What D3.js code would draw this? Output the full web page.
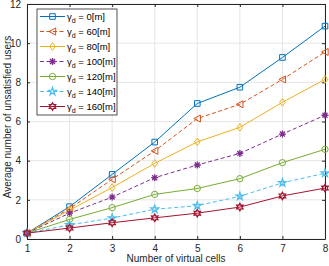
<!DOCTYPE html>
<html><head><meta charset="utf-8">
<script src="https://cdn.jsdelivr.net/npm/d3@7"></script>
<style>body{margin:0;background:#fff}svg{display:block;font-family:"Liberation Sans",Arial,sans-serif}</style>
</head><body>
<svg id="c" width="329" height="266"></svg>
<script>
const xCategories = [1,2,3,4,5,6,7,8];
const yTicks = [0,2,4,6,8,10,12];
const seriesNames = ["0","60","80","100","120","140","160"];
const s0   = [0.3, 1.65, 3.3, 4.95, 6.92, 7.75, 9.27, 10.87];
const s60  = [0.3, 1.55, 3.05, 4.5, 6.15, 6.88, 8.15, 9.55];
const s80  = [0.3, 1.47, 2.63, 3.86, 4.96, 5.7, 6.98, 8.15];
const s100 = [0.3, 1.32, 2.14, 3.13, 3.78, 4.37, 5.36, 6.32];
const s120 = [0.3, 1.0, 1.6, 2.28, 2.58, 3.08, 3.9, 4.58];
const s140 = [0.3, 0.72, 1.07, 1.52, 1.7, 2.18, 2.87, 3.36];
const s160 = [0.3, 0.56, 0.83, 1.08, 1.32, 1.63, 2.2, 2.6];
const seriesValues = [s0,s60,s80,s100,s120,s140,s160];

const colors = ["#0072BD","#D95319","#EDB120","#7E2F8E","#77AC30","#4DBEEE","#A2142F"];
const dashes = [null,"4,2.5",null,"4,2.5",null,"4,2.5",null];
const markers = ["square","triangleLeft","diamond","asterisk","circle","pentagram","hexagram"];

const svg = d3.select("#c");
const L=27,R=325,T=4,B=239;
const x = d3.scaleLinear().domain([1,8]).range([L,R]);
const y = d3.scaleLinear().domain([0,12]).range([B,T]);

// grid
const g = svg.append("g");
g.selectAll(".gx").data(xCategories).enter().append("line")
 .attr("x1",d=>x(d)).attr("x2",d=>x(d)).attr("y1",T).attr("y2",B)
 .attr("stroke","#e6e6e6").attr("stroke-width",1);
g.selectAll(".gy").data(yTicks).enter().append("line")
 .attr("y1",d=>y(d)).attr("y2",d=>y(d)).attr("x1",L).attr("x2",R)
 .attr("stroke","#e6e6e6").attr("stroke-width",1);

// axes
const axCol="#262626";
function styleAxis(sel){
  sel.select(".domain").attr("stroke",axCol);
  sel.selectAll(".tick line").attr("stroke",axCol);
  sel.selectAll(".tick text").attr("fill",axCol).style("font-size","10px").style("font-family","'Liberation Sans',Arial,sans-serif");
}
const xa = svg.append("g").attr("transform",`translate(0,${B})`)
 .call(d3.axisBottom(x).tickValues(xCategories).tickFormat(d3.format("d")).tickSizeInner(-3).tickSizeOuter(0).tickPadding(6));
styleAxis(xa);
const xt = svg.append("g").attr("transform",`translate(0,${T})`)
 .call(d3.axisTop(x).tickValues(xCategories).tickFormat("").tickSizeInner(-3).tickSizeOuter(0));
styleAxis(xt);
const ya = svg.append("g").attr("transform",`translate(${L},0)`)
 .call(d3.axisLeft(y).tickValues(yTicks).tickFormat(d3.format("d")).tickSizeInner(-3).tickSizeOuter(0).tickPadding(6));
styleAxis(ya);
const yr = svg.append("g").attr("transform",`translate(${R},0)`)
 .call(d3.axisRight(y).tickValues(yTicks).tickFormat("").tickSizeInner(-3).tickSizeOuter(0));
styleAxis(yr);

// labels
svg.append("text").attr("x",(L+R)/2).attr("y",262).attr("text-anchor","middle")
 .attr("fill",axCol).style("font-size","10px").text("Number of virtual cells");
svg.append("text").attr("transform",`translate(11,117) rotate(-90)`).attr("text-anchor","middle")
 .attr("fill",axCol).style("font-size","10px").text("Average number of unsatisfied users");

// markers
function markerPath(type, r){
  const p = d3.path();
  if(type==="square"){ p.rect(-r*0.8,-r*0.8,r*1.6,r*1.6); }
  else if(type==="triangleLeft"){ p.moveTo(-r,0); p.lineTo(r*0.9,-r); p.lineTo(r*0.9,r); p.closePath(); }
  else if(type==="diamond"){ p.moveTo(0,-r*1.1); p.lineTo(r*0.8,0); p.lineTo(0,r*1.1); p.lineTo(-r*0.8,0); p.closePath(); }
  else if(type==="circle"){ p.arc(0,0,r*0.9,0,2*Math.PI); }
  else if(type==="asterisk"){
    for(let k=0;k<4;k++){const a=k*Math.PI/4; p.moveTo(-r*Math.cos(a),-r*Math.sin(a)); p.lineTo(r*Math.cos(a),r*Math.sin(a));}
  }
  else if(type==="pentagram"){
    for(let k=0;k<10;k++){const a=-Math.PI/2+k*Math.PI/5; const rr=k%2?r*0.45:r*1.15; if(k===0)p.moveTo(rr*Math.cos(a),rr*Math.sin(a)); else p.lineTo(rr*Math.cos(a),rr*Math.sin(a));}
    p.closePath();
  }
  else if(type==="hexagram"){
    for(let k=0;k<12;k++){const a=-Math.PI/2+k*Math.PI/6; const rr=k%2?r*0.6:r*1.05; if(k===0)p.moveTo(rr*Math.cos(a),rr*Math.sin(a)); else p.lineTo(rr*Math.cos(a),rr*Math.sin(a));}
    p.closePath();
  }
  return p.toString();
}

const line = d3.line().x((d,i)=>x(xCategories[i])).y(d=>y(d));
seriesValues.forEach((vals,si)=>{
  svg.append("path").attr("d",line(vals)).attr("fill","none")
   .attr("stroke",colors[si]).attr("stroke-width",1)
   .attr("stroke-dasharray",dashes[si]);
  svg.selectAll(null).data(vals).enter().append("path")
   .attr("transform",(d,i)=>`translate(${x(xCategories[i])},${y(d)})`)
   .attr("d",markerPath(markers[si],3.5)).attr("fill","none")
   .attr("stroke",colors[si]).attr("stroke-width",markers[si]==="asterisk"||markers[si]==="pentagram"||markers[si]==="hexagram"?1.3:1);
});

// legend
const lg = svg.append("g");
lg.append("rect").attr("x",37).attr("y",9).attr("width",80).attr("height",106)
 .attr("fill","#fff").attr("stroke","#262626").attr("stroke-width",0.8);
seriesNames.forEach((n,si)=>{
  const yy = 16.5 + si*15;
  lg.append("line").attr("x1",40).attr("x2",65).attr("y1",yy).attr("y2",yy)
   .attr("stroke",colors[si]).attr("stroke-width",1).attr("stroke-dasharray",dashes[si]);
  lg.append("path").attr("transform",`translate(52.5,${yy})`).attr("d",markerPath(markers[si],3.5))
   .attr("fill","none").attr("stroke",colors[si]).attr("stroke-width",markers[si]==="asterisk"||markers[si]==="pentagram"||markers[si]==="hexagram"?1.3:1);
  const t = lg.append("text").attr("x",67).attr("y",yy+3.5).attr("fill","#000").style("font-size","9.5px");
  t.append("tspan").text("γ");
  t.append("tspan").attr("dy",2.5).style("font-size","7px").text("d");
  t.append("tspan").attr("dy",-2.5).text(" = "+n+"[m]");
});
</script>
</body></html>
